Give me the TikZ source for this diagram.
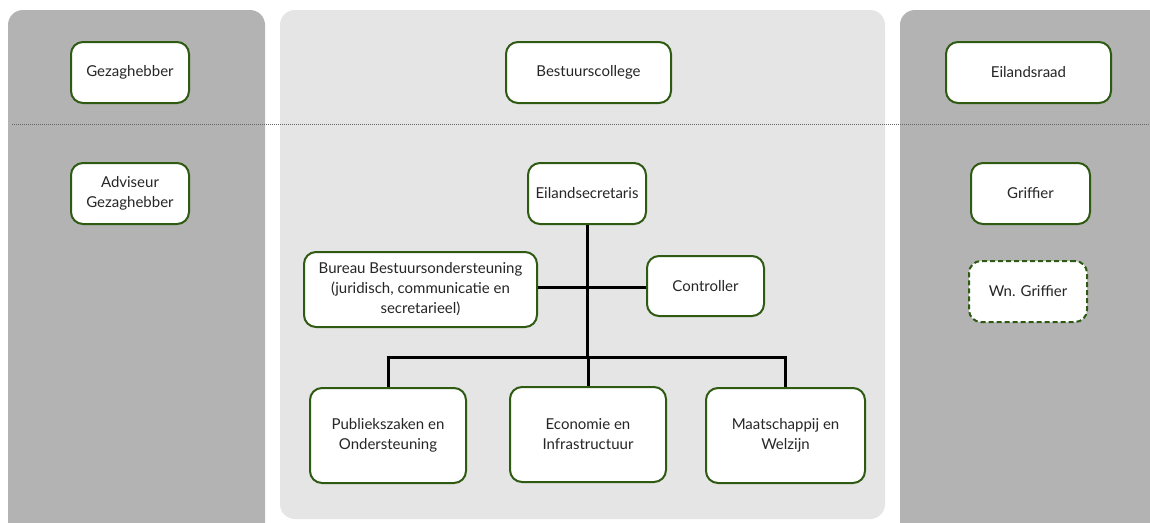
\documentclass[tikz,border=0pt]{standalone}
\usepackage{fontspec}
\setmainfont{Lato}
\begin{document}
\begin{tikzpicture}[x=1pt,y=-1pt,
  box/.style={draw=boxgreen,line width=2pt,fill=white,rounded corners=12pt,align=center,inner sep=0pt,
    font=\fontsize{15}{20}\selectfont,text=black!85},
  dashbox/.style={box,dash pattern=on 5pt off 3pt},
  conn/.style={line width=3pt,black}]
\definecolor{boxgreen}{HTML}{2E5A12}
\definecolor{darkpanel}{HTML}{B3B3B3}
\definecolor{lightpanel}{HTML}{E5E5E5}
\useasboundingbox (0,0) rectangle (1150,522);
\fill[white] (0,0) rectangle (1150,522);
\begin{scope}
\clip (0,0) rectangle (1150,522);
\fill[darkpanel,rounded corners=15pt] (8,10) rectangle (265,560);
\fill[darkpanel,rounded corners=15pt] (900,10) rectangle (1170,560);
\end{scope}
\fill[lightpanel,rounded corners=15pt] (280,10) rectangle (885,519);
\draw[gray!80!black,line width=0.9pt,dash pattern=on 1pt off 1pt] (12,124) -- (1150,124);
% nodes
\node[box,minimum width=118pt,minimum height=61pt] (gez) at (130,72.5) {Gezaghebber};
\node[box,minimum width=118pt,minimum height=61pt] (adv) at (130,193.5) {Adviseur\\Gezaghebber};
\node[box,minimum width=165pt,minimum height=61pt] (bc) at (588.5,72.5) {Bestuurscollege};
\node[box,minimum width=165pt,minimum height=61pt] (er) at (1028.5,72.5) {Eilandsraad};
\node[box,minimum width=119pt,minimum height=61pt] (gr) at (1030.5,193.5) {Griffier};
\node[dashbox,minimum width=118pt,minimum height=61pt] (wg) at (1028,291.5) {Wn. Griffier};
\node[box,minimum width=118pt,minimum height=61pt] (es) at (587,193.5) {Eilandsecretaris};
\node[box,minimum width=233pt,minimum height=75pt] (bb) at (420.5,289.5) {Bureau Bestuursondersteuning\\(juridisch, communicatie en\\secretarieel)};
\node[box,minimum width=117pt,minimum height=60pt] (ct) at (705.5,286) {Controller};
\node[box,minimum width=156pt,minimum height=95pt] (pz) at (388,435.5) {Publiekszaken en\\Ondersteuning};
\node[box,minimum width=156pt,minimum height=95pt] (ei) at (588,434.5) {Economie en\\Infrastructuur};
\node[box,minimum width=159pt,minimum height=95pt] (mw) at (785.5,435.5) {Maatschappij en\\Welzijn};
% connectors
\coordinate (hub) at (587,357);
\coordinate (mid) at (587,287);
\draw[conn] (es.south) -- (hub);
\draw[conn] (bb.east |- mid) -- (ct.west |- mid);
\draw[conn] ([xshift=-1.5pt]pz.north |- hub) -- ([xshift=1.5pt]mw.north |- hub);
\draw[conn] (pz.north |- hub) -- (pz.north);
\draw[conn] (ei.north |- hub) -- (ei.north);
\draw[conn] (mw.north |- hub) -- (mw.north);
\end{tikzpicture}
\end{document}
